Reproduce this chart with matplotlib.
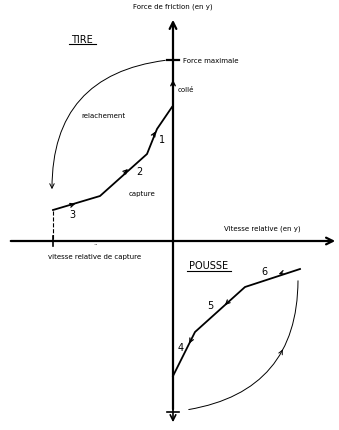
import numpy as np
import matplotlib.pyplot as plt
from matplotlib.patches import FancyArrowPatch

# repères (coordonnées du schéma, en pixels de l'image)
axe_x0 = 173          # position de l'axe vertical
axe_y0 = 242          # position de l'axe horizontal
force_max = 61
vitesse_capture = 53

# trajet "tire" : 3 -> 2 -> 1
tire_x = [53, 100, 147, 157, 172]
tire_y = [211, 197, 155, 130, 108]
# relachement (arc) : début, fin
relach = [(168, 61), (52, 193)]

# trajet "pousse" : 6 -> 5 -> 4
pousse_x = [300, 245, 195, 173]
pousse_y = [270, 288, 333, 377]
# retour (arc) : début, fin
retour = [(298, 279), (186, 411)]

fig = plt.figure(figsize=(3.39, 4.31), dpi=100)
ax = fig.add_axes([0, 0, 1, 1])
ax.set_xlim(0, 339)
ax.set_ylim(431, 0)
ax.axis('off')

# axes
ax.annotate('', xy=(axe_x0, 18), xytext=(axe_x0, 413),
            arrowprops=dict(arrowstyle='->', lw=1.6, color='black', mutation_scale=12))
ax.annotate('', xy=(axe_x0, 426), xytext=(axe_x0, 405),
            arrowprops=dict(arrowstyle='->', lw=1.2, color='black', mutation_scale=10))
ax.annotate('', xy=(338, axe_y0), xytext=(8, axe_y0),
            arrowprops=dict(arrowstyle='->', lw=1.6, color='black', mutation_scale=12))

# graduations
ax.plot([167, 179], [force_max, force_max], color='black', lw=1.6)
ax.plot([167, 179], [413, 413], color='black', lw=1.2)
ax.plot([vitesse_capture, vitesse_capture], [237, 247], color='black', lw=1.2)
ax.annotate('', xy=(axe_x0, 78), xytext=(axe_x0, 90),
            arrowprops=dict(arrowstyle='->', lw=1.0, color='black', mutation_scale=8))

# courbes
ax.plot(tire_x, tire_y, color='black', lw=1.3)
ax.plot(pousse_x, pousse_y, color='black', lw=1.3)
ax.add_patch(FancyArrowPatch(relach[0], relach[1], connectionstyle='arc3,rad=0.45',
                             arrowstyle='->', mutation_scale=8, lw=0.7, color='black'))
ax.add_patch(FancyArrowPatch(retour[0], retour[1], connectionstyle='arc3,rad=-0.43',
                             arrowstyle='-', lw=0.7, color='black'))
ax.plot([vitesse_capture, vitesse_capture], [212, 242], color='black', lw=0.8, ls='--')

def fleche(x0, y0, x1, y1, lw=0.9):
    ax.annotate('', xy=(x1, y1), xytext=(x0, y0),
                arrowprops=dict(arrowstyle='->', lw=lw, color='black', mutation_scale=7))

fleche(68, 207, 78, 204)
fleche(122, 176, 130, 168)
fleche(152, 139, 157, 130)
fleche(285, 273, 276, 276)
fleche(230, 301, 223, 308)
fleche(192, 339, 188, 347)
fleche(281, 354, 284, 348, lw=0.7)

# textes
fs = 5
ax.text(axe_x0, 7, 'Force de friction (en y)', fontsize=fs, ha='center', va='center')
ax.text(183, 61, 'Force maximale', fontsize=fs, ha='left', va='center')
ax.text(178, 90, 'collé', fontsize=fs, ha='left', va='center')
ax.text(82, 40, 'TIRE', fontsize=7, ha='center', va='center')
ax.plot([69, 96], [45, 45], color='black', lw=0.8)
ax.text(103, 116, 'relachement', fontsize=fs, ha='center', va='center')
ax.text(142, 194, 'capture', fontsize=fs, ha='center', va='center')
ax.text(162, 140, '1', fontsize=7, ha='center', va='center')
ax.text(139, 172, '2', fontsize=7, ha='center', va='center')
ax.text(72, 215, '3', fontsize=7, ha='center', va='center')
ax.text(262, 229, 'Vitesse relative (en y)', fontsize=fs, ha='center', va='center')
ax.text(95, 257, 'vitesse relative de capture', fontsize=fs, ha='center', va='center')
ax.text(95, 248, '¨', fontsize=fs, ha='center', va='center')
ax.text(209, 266, 'POUSSE', fontsize=7, ha='center', va='center')
ax.plot([187, 231], [272, 272], color='black', lw=0.8)
ax.text(264, 272, '6', fontsize=7, ha='center', va='center')
ax.text(210, 306, '5', fontsize=7, ha='center', va='center')
ax.text(181, 348, '4', fontsize=7, ha='center', va='center')

fig.savefig('out.png', dpi=100)
